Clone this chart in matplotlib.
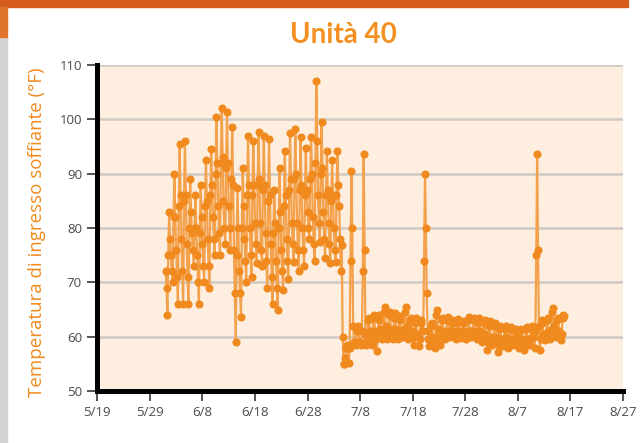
import datetime as dt
import numpy as np
import matplotlib
matplotlib.use("Agg")
import matplotlib.pyplot as plt
from matplotlib.patches import Rectangle

# readings every 4 hours (0h, 4h, 8h, 12h, 16h, 20h), one row per day
june_temps = [
    [72, 69, 64, 75, 83, 78],
    [75, 72, 70, 82, 90, 82],
    [76, 71, 66, 84, 95.5, 86],
    [78, 72, 66, 85, 96, 86],
    [77, 71, 66, 80, 89, 83],
    [79, 76, 73, 80, 86, 80],
    [75, 70, 66, 79, 88, 82],
    [77, 73, 70, 84, 92.5, 85],
    [78, 73, 69, 86, 94.5, 88],
    [82, 78, 75, 90, 100.5, 92],
    [84, 79, 75, 92, 102, 93],
    [85, 80, 77, 91, 101.3, 92],
    [84, 80, 76, 89, 98.5, 88],
    [76, 68, 59, 75, 87.3, 80],
    [72, 68, 63.7, 80, 91, 84],
    [78, 74, 70, 86, 97, 88],
    [80, 75, 71, 86, 96, 88],
    [81, 77, 73.5, 88, 97.6, 89],
    [81, 76, 73, 87, 97, 88],
    [79, 74, 69, 85, 96.3, 86],
    [77, 71, 66, 79, 87, 81],
    [74, 69, 65, 80, 91, 83],
    [76, 72, 68.6, 84, 94.2, 86],
    [78, 74, 70.6, 87, 97.5, 89],
    [81, 77, 73.7, 89, 98.2, 90],
    [81, 76, 72, 87, 96.8, 88],
    [80, 76, 73, 86, 94.8, 87],
    [83, 80, 78, 89, 96.8, 90],
    [82, 77, 74, 92, 107, 96],
    [86, 81, 77.5, 90, 99.6, 91],
]

july_temps = [
    [83, 78, 74.5, 86, 94.2, 87],
    [81, 77, 73.6, 85, 92.5, 86],
    [80, 76, 73.8, 86, 94.2, 88],
    [84, 78, 72, 76.8, 60, 55],
    [55, 56, 58, 58.5, 58, 55.2],
    [58, 74, 90.5, 80, 62, 59],
    [59, 58.5, 61, 62, 61, 59],
    [59, 58.5, 61, 72, 93.6, 76],
    [60.5, 58.5, 59.5, 63, 63.5, 61],
    [60, 58.5, 60, 63.5, 64, 61],
    [59.5, 57.4, 60, 63, 64, 61.5],
    [60.5, 59.5, 61, 64.5, 65.4, 62],
    [61, 59.5, 60.5, 64, 64.5, 61.5],
    [60.5, 59.5, 61, 63.5, 64.3, 61.5],
    [60.5, 59.5, 60.5, 63, 63.8, 61],
    [60.5, 60, 61.5, 64.5, 65.4, 62],
    [61, 59.5, 60.5, 63, 63.5, 61],
    [60, 58.5, 60, 62.5, 63.5, 60.5],
    [60, 58.2, 59.5, 62.5, 63, 61],
    [61, 74, 90, 80, 68, 61],
    [59.5, 58.3, 59.5, 62, 62.5, 60],
    [59, 58, 60, 64, 65, 61.5],
    [60, 58.5, 60, 63, 63.5, 61],
    [60.5, 59.5, 60.5, 63, 63.6, 61],
    [61, 60, 60.5, 62.5, 63, 61],
    [60.5, 59.5, 60.5, 62.5, 63.2, 61],
    [60.5, 59.8, 60.5, 62.5, 62.8, 61],
    [60.5, 59.5, 60.5, 63, 63.6, 61],
    [61, 60, 60.5, 63, 63.4, 61],
    [60.5, 59.5, 60.5, 62.5, 63.4, 61],
    [60, 59, 60, 62.5, 63, 60.5],
]

august_temps = [
    [59.5, 57.6, 59, 62, 62.8, 60],
    [59.5, 58.5, 59.5, 62, 62.6, 60],
    [59, 57.2, 58.5, 61.5, 62, 59.5],
    [59, 58.2, 59, 61.5, 62, 60],
    [59, 58, 59, 61.5, 61.8, 59.5],
    [59.5, 58.5, 59, 61, 61.5, 60],
    [59, 58, 59, 61, 61.4, 59.5],
    [59, 57.5, 58.5, 61.5, 61.8, 59.5],
    [59.5, 58.5, 59.5, 61.5, 62, 60],
    [60, 58, 61, 75, 93.6, 76],
    [62, 57.6, 59.5, 62.5, 63, 60.5],
    [60.5, 59.3, 60.5, 63, 63.5, 61],
    [61, 59.5, 61, 64.5, 65.2, 62],
    [61, 60, 60.5, 63, 63.5, 61],
    [60.5, 59.3, 60.5, 63.5, 64, 63.8],
]

first_day = dt.datetime(2013, 6, 1)
tick_labels = ["5/19", "5/29", "6/8", "6/18", "6/28", "7/8", "7/18",
               "7/28", "8/7", "8/17", "8/27"]
tick_dates = [dt.datetime(2013, 5, 19) + dt.timedelta(days=10 * i)
              for i in range(len(tick_labels))]

temps = [v for rows in (june_temps, july_temps, august_temps) for row in rows for v in row]
times = [first_day + dt.timedelta(hours=4 * i) for i in range(len(temps))]

orange = "#f08a1e"

fig = plt.figure(figsize=(6.41, 4.43), dpi=100)

# slide decorations around the chart
fig.patches.append(Rectangle((0, 1 - 7 / 443), 628 / 641, 7 / 443,
                             transform=fig.transFigure, color="#d65d1c", zorder=0))
fig.patches.append(Rectangle((0, 0), 7 / 641, 1 - 37 / 443,
                             transform=fig.transFigure, color="#d4d4d4", zorder=0))
fig.patches.append(Rectangle((0, 1 - 37 / 443), 7 / 641, 30 / 443,
                             transform=fig.transFigure, color="#e0742a", zorder=0))

ax = fig.add_axes([97.3 / 641, 1 - 391 / 443, (623 - 97.3) / 641, (391 - 65) / 443])
ax.set_facecolor("#fdeedf")

ax.plot(times, temps, color="#f4a14c", lw=1.6, marker="o", ms=4.8,
        mfc=orange, mec=orange, zorder=3, clip_on=False)

ax.set_xlim(tick_dates[0], tick_dates[-1])
ax.set_ylim(50, 110)
ax.set_yticks(np.arange(50, 111, 10))
ax.set_xticks(tick_dates)
ax.set_xticklabels(tick_labels)

ax.yaxis.grid(True, color="#cfcac4", lw=1.8)
ax.set_axisbelow(True)

for side in ("top", "right"):
    ax.spines[side].set_visible(False)
for side in ("left", "bottom"):
    ax.spines[side].set_linewidth(3.6)
    ax.spines[side].set_color("black")

ax.tick_params(axis="both", direction="out", length=7, width=1.2, color="#333333",
               labelcolor="#4a4a4a", labelsize=9.5, pad=4)
for lab in ax.get_xticklabels() + ax.get_yticklabels():
    lab.set_family("Open Sans")

fig.text(343 / 641, 1 - 35 / 443, "Unità 40", ha="center", va="center",
         fontsize=20, fontweight="bold", color="#f39020", family="Lato")
fig.text(37 / 641, 1 - 232 / 443, "Temperatura di ingresso soffiante (°F)",
         rotation=90, ha="center", va="center", fontsize=13.5, color=orange,
         family="Open Sans")

fig.savefig("out.png", dpi=100)
